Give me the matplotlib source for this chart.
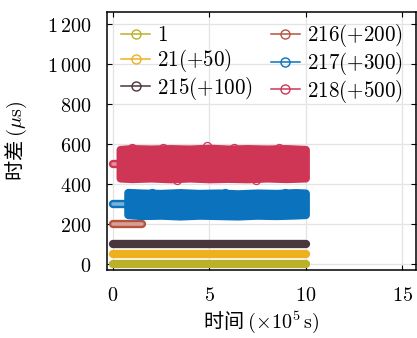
import matplotlib
matplotlib.use('Agg')
import matplotlib.pyplot as plt
from matplotlib.lines import Line2D
from matplotlib.patches import Polygon
from matplotlib.ticker import FixedLocator, FuncFormatter

plt.rcParams['font.family'] = ['Noto Sans CJK SC', 'DejaVu Sans']
plt.rcParams['mathtext.fontset'] = 'cm'
plt.rcParams['axes.unicode_minus'] = False

# ---------------- data ----------------
labels = ['1', '21(+50)', '215(+100)', '216(+200)', '217(+300)', '218(+500)']
colors = ['#bbb02a', '#edb120', '#4a363d', '#b5533f', '#0b72bd', '#cf3656']

# series that stay on a constant offset: time span (x1e5 s) and value (us)
const_start = [0.0, 0.0, 0.0, 0.0]
const_end = [10.0, 10.0, 10.0, 1.5]
const_value = [0, 50, 100, 200]

# short tight start segments of 217 / 218
narrow_217_t = [0.0, 0.7]
narrow_217_v = [300, 300]
narrow_218_t = [0.0, 0.35]
narrow_218_v = [500, 500]

# noisy bands: envelope of the point cloud (marker centres)
band_217_t = [0.8, 1.5, 2.5, 3.5, 4.5, 5.5, 6.5, 7.5, 8.5, 9.5, 10.0]
band_217_hi = [355, 352, 350, 354, 350, 352, 348, 352, 350, 354, 352]
band_217_lo = [245, 240, 242, 238, 242, 240, 238, 242, 240, 243, 245]
band_218_t = [0.4, 1.0, 2.0, 3.0, 4.0, 5.0, 6.0, 7.0, 8.0, 9.0, 10.0]
band_218_hi = [570, 574, 572, 574, 572, 576, 572, 574, 572, 574, 570]
band_218_lo = [428, 425, 428, 424, 428, 424, 426, 424, 428, 425, 428]

# isolated outlying points just outside the bands
out_218_t = [1.0, 2.6, 4.9, 6.3, 8.6, 3.3, 7.4]
out_218_v = [580, 578, 590, 578, 580, 420, 418]
out_217_t = [2.0, 5.8, 8.9]
out_217_v = [356, 355, 356]

xticks = [0, 5, 10, 15]
yticks = [0, 200, 400, 600, 800, 1000, 1200]

# ---------------- figure ----------------
fig = plt.figure(figsize=(4.17, 3.38), dpi=100)
ax = fig.add_axes([0.2566, 0.2012, 0.741, 0.7633])

band_lw = 6.0
ms = 5.8


def lighten(c, f):
    import matplotlib.colors as mc
    r, g, b = mc.to_rgb(c)
    return (r + (1 - r) * f, g + (1 - g) * f, b + (1 - b) * f)


# constant series
for i in range(4):
    ax.plot([const_start[i], const_end[i]], [const_value[i]] * 2,
            color=colors[i], lw=band_lw, solid_capstyle='round', zorder=3)
# the sparse 216 run shows lighter interior
ax.plot([const_start[3], const_end[3]], [const_value[3]] * 2,
        color=lighten(colors[3], 0.45), lw=2.6, solid_capstyle='round', zorder=3)

# narrow starts
for t, v, c in [(narrow_217_t, narrow_217_v, colors[4]),
                (narrow_218_t, narrow_218_v, colors[5])]:
    ax.plot(t, v, color=c, lw=band_lw, solid_capstyle='round', zorder=3)
    ax.plot(t, v, color=lighten(c, 0.45), lw=2.6, solid_capstyle='round', zorder=3)

# bands
for t, hi, lo, c in [(band_217_t, band_217_hi, band_217_lo, colors[4]),
                     (band_218_t, band_218_hi, band_218_lo, colors[5])]:
    pts = list(zip(t, hi)) + list(zip(t[::-1], lo[::-1]))
    ax.add_patch(Polygon(pts, closed=True, facecolor=c, edgecolor=c,
                         lw=band_lw, joinstyle='round', zorder=3))

ax.plot(out_218_t, out_218_v, 'o', mfc='none', mec=colors[5], ms=ms, mew=0.9, zorder=3)
ax.plot(out_217_t, out_217_v, 'o', mfc='none', mec=colors[4], ms=ms, mew=0.9, zorder=3)

# axes
ax.set_xlim(-0.31, 15.72)
ax.set_ylim(-30, 1260)
ax.xaxis.set_major_locator(FixedLocator(xticks))
ax.yaxis.set_major_locator(FixedLocator(yticks))


def yfmt(v, p):
    v = int(round(v))
    if v >= 1000:
        return r'$%d\,%03d$' % (v // 1000, v % 1000)
    return r'$%d$' % v


ax.yaxis.set_major_formatter(FuncFormatter(yfmt))
ax.xaxis.set_major_formatter(FuncFormatter(lambda v, p: r'$%d$' % int(round(v))))
ax.tick_params(direction='in', length=3.5, width=0.8, top=True, right=True,
               labelsize=14.5, colors='black')
ax.tick_params(axis='y', pad=11)
ax.tick_params(axis='x', pad=11)
ax.grid(True, color='#e3e3e3', lw=0.9, zorder=0)
ax.set_axisbelow(True)
for s in ax.spines.values():
    s.set_linewidth(1.1)
    s.set_color('black')

ax.set_xlabel(r'时间 $(\times10^5\,\mathrm{s})$', fontsize=14.5, labelpad=2)
ax.set_ylabel(r'时差 $(\mu\mathrm{s})$', fontsize=14.5, labelpad=13)

handles = [Line2D([], [], color=c, lw=1.1, marker='o', mfc='none', mec=c,
                  ms=6.5, mew=1.0) for c in colors]
leg = ax.legend(handles, [r'$%s$' % l for l in labels], ncol=2, loc='upper left',
                bbox_to_anchor=(0.045, 0.96), frameon=False, fontsize=15.2,
                borderpad=0, borderaxespad=0, handlelength=1.4,
                handletextpad=0.3, columnspacing=0.85, labelspacing=0.03)

fig.savefig('out.png', dpi=100)
